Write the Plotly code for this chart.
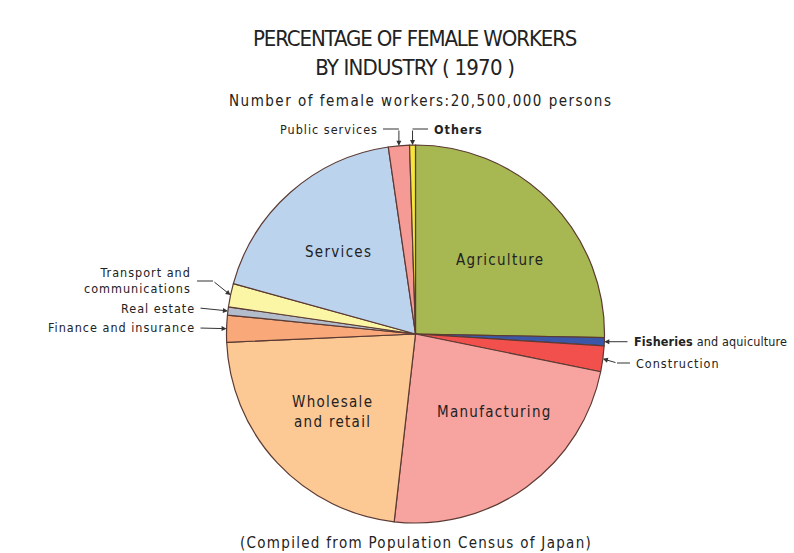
import math
import plotly.graph_objects as go

# ---- data ----
industries = ["Agriculture", "Fisheries and aquiculture", "Construction", "Manufacturing",
              "Wholesale and retail", "Finance and insurance", "Real estate",
              "Transport and communications", "Services", "Public services", "Others"]
shares = [25.3, 0.7, 2.2, 23.6, 22.5, 2.3, 0.7, 2.0, 18.4, 1.8, 0.5]
colors = ["#a7b752", "#3b58a8", "#f2504c", "#f7a3a0", "#fcc894", "#f9a979",
          "#b3bccb", "#fbf5a6", "#bcd3ee", "#f59a94", "#f4e63a"]

W, H = 794, 553
CX, CY, R = 415.5, 334.0, 189.0   # pie centre / radius in pixels

FONT = "DejaVu Sans Condensed, Liberation Sans Narrow, sans-serif"
INK = "#333333"


def sp(text, ls):
    return f'<span style="letter-spacing:{ls}px">{text}</span>'


def px(x):
    return x / W


def py(y):
    return 1 - y / H


# mid-angle of each slice (clockwise from 12 o'clock)
total = sum(shares)
mid = []
acc = 0.0
for s in shares:
    mid.append((acc + s / 2) / total * 360)
    acc += s


def edge(i, rr=1.0):
    a = math.radians(mid[i])
    return CX + R * rr * math.sin(a), CY - R * rr * math.cos(a)


fig = go.Figure(go.Pie(
    labels=industries, values=shares, sort=False, direction="clockwise", rotation=0,
    marker=dict(colors=colors, line=dict(color="#5b3a33", width=1.2)),
    textinfo="none", hoverinfo="label+percent", showlegend=False,
    domain=dict(x=[px(CX - R), px(CX + R)], y=[py(CY + R), py(CY - R)]),
))

ann = []
shapes = []

# titles
ann.append(dict(text=sp("PERCENTAGE OF FEMALE WORKERS", -1.1) + "<br>" + sp("BY INDUSTRY ( 1970 )", -0.8),
                x=px(415), y=py(53),
                xref="paper", yref="paper", showarrow=False, xanchor="center", yanchor="middle",
                font=dict(family=FONT, size=22, color="#222"), align="center"))
ann.append(dict(text=sp("Number of female workers:20,500,000 persons", 1.5), x=px(420), y=py(101),
                xref="paper", yref="paper", showarrow=False, xanchor="center", yanchor="middle",
                font=dict(family=FONT, size=15, color="#222")))
ann.append(dict(text=sp("(Compiled from Population Census of Japan)", 1.3), x=px(416), y=py(543),
                xref="paper", yref="paper", showarrow=False, xanchor="center", yanchor="middle",
                font=dict(family=FONT, size=15, color="#222")))

# inside labels
inside = {0: ("Agriculture", 500, 260), 8: ("Services", 338, 252),
          3: ("Manufacturing", 494, 412), 4: ("Wholesale<br>and retail", 332, 412)}
for i, (t, x, y) in inside.items():
    txt = "<br>".join(sp(part, 1.3) for part in t.split("<br>"))
    ann.append(dict(text=txt, x=px(x), y=py(y), xref="paper", yref="paper", showarrow=False,
                    xanchor="center", yanchor="middle", align="center",
                    font=dict(family=FONT, size=15, color="#222")))


def leader(i, pts, text, tx, ty, anchor, ls=1.0):
    tipx, tipy = edge(i)
    path_pts = pts + [(tipx, tipy)]
    if len(path_pts) > 2:
        d = "M " + " L ".join(f"{px(a)},{py(b)}" for a, b in path_pts[:-1])
        shapes.append(dict(type="path", path=d, xref="paper", yref="paper",
                           line=dict(color=INK, width=1)))
    lx, ly = path_pts[-2]
    ann.append(dict(text="", x=px(tipx), y=py(tipy), xref="paper", yref="paper",
                    ax=lx - tipx, ay=ly - tipy, axref="pixel", ayref="pixel",
                    showarrow=True, arrowhead=2, arrowsize=1, arrowwidth=1,
                    arrowcolor=INK, standoff=0, startstandoff=0))
    txt = "<br>".join(sp(part, ls) for part in text.split("<br>"))
    ann.append(dict(text=txt, x=px(tx), y=py(ty), xref="paper", yref="paper", showarrow=False,
                    xanchor=anchor, yanchor="middle", align="right",
                    font=dict(family=FONT, size=12.5, color="#222")))


ex, ey = edge(9)
leader(9, [(383, 129), (ex, 129)], "Public services", 380, 129, "right")
ex, ey = edge(10)
leader(10, [(428, 129), (ex, 129)], "<b>Others</b>", 432, 129, "left")
ex, ey = edge(1)
leader(1, [(629, ey)], "<b>Fisheries</b> and aquiculture", 632, ey, "left", ls=0.15)
leader(2, [(630, 363), (617, 363)], "Construction", 634, 363, "left")
leader(7, [(197, 281), (213, 281)], "Transport and<br>communications", 193, 280, "right")
leader(6, [(199, 308)], "Real estate", 197, 308, "right")
leader(5, [(199, 328)], "Finance and insurance", 197, 327, "right")

fig.update_layout(width=W, height=H, margin=dict(l=0, r=0, t=0, b=0),
                  paper_bgcolor="white", plot_bgcolor="white",
                  annotations=ann, shapes=shapes)
fig.write_html("out.html")
